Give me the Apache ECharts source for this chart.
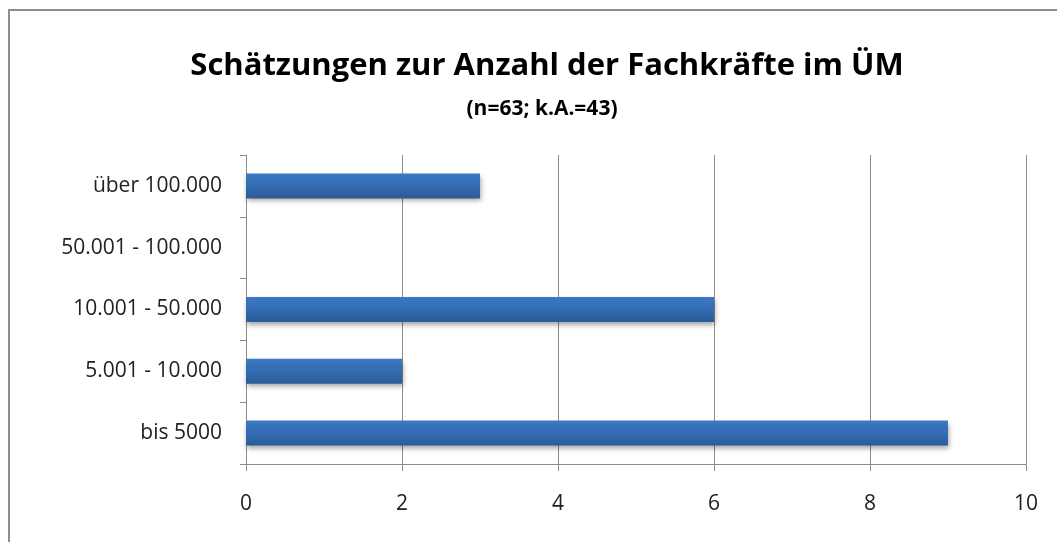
<!DOCTYPE html>
<html>
<head>
<meta charset="utf-8">
<script src="https://cdn.jsdelivr.net/npm/echarts@6/dist/echarts.min.js"></script>
<style>
  html, body { margin: 0; padding: 0; background: #fff; overflow: hidden; }
  .frame {
    position: absolute; left: 8px; top: 9px; width: 1100px; height: 600px;
    border: 2px solid #8e8e8e; box-sizing: border-box;
  }
  #ec { position: absolute; left: 0; top: 0; width: 1057px; height: 542px; }
</style>
</head>
<body>
<div class="frame"></div>
<div id="ec"></div>
<script>
  const categories = ['bis 5000', '5.001 - 10.000', '10.001 - 50.000', '50.001 - 100.000', 'über 100.000']
  const values = [9, 2, 6, 0, 3]
  const xTicks = [0, 2, 4, 6, 8, 10]

  const ec = echarts.init(document.getElementById('ec'))
  const labelFont = '"Open Sans", "Liberation Sans", sans-serif'

  ec.setOption({
    animation: false,
    title: [{
      text: 'Schätzungen zur Anzahl der Fachkräfte im ÜM',
      left: 542, top: 46, textAlign: 'center',
      textStyle: { fontFamily: labelFont, fontSize: 31, fontWeight: 'bold', color: '#000' }
    }, {
      text: '(n=63; k.A.=43)',
      left: 537, top: 94, textAlign: 'center',
      textStyle: { fontFamily: labelFont, fontSize: 21, fontWeight: 'bold', color: '#000' }
    }],
    grid: { left: 246, right: 31, top: 155, bottom: 78 },
    xAxis: {
      type: 'value',
      min: xTicks[0],
      max: xTicks[xTicks.length - 1],
      interval: 2,
      axisLine: { show: true, lineStyle: { color: '#8c8c8c', width: 1 } },
      axisTick: { show: true, length: 7, lineStyle: { color: '#8c8c8c' } },
      axisLabel: { margin: 30, fontFamily: labelFont, fontSize: 21, color: '#222' },
      splitLine: { show: true, lineStyle: { color: '#8c8c8c', width: 1 } }
    },
    yAxis: {
      type: 'category',
      data: categories,
      axisLine: { show: true, lineStyle: { color: '#8c8c8c', width: 1 } },
      axisTick: { show: true, length: 6, lineStyle: { color: '#8c8c8c' } },
      axisLabel: { margin: 24, fontFamily: labelFont, fontSize: 21, color: '#222' }
    },
    series: [{
      type: 'bar',
      data: values,
      barWidth: 25,
      itemStyle: {
        color: new echarts.graphic.LinearGradient(0, 0, 0, 1, [
          { offset: 0, color: '#3b79c3' },
          { offset: 0.5, color: '#326cb2' },
          { offset: 1, color: '#2b5b96' }
        ]),
        shadowColor: 'rgba(0,0,0,0.35)',
        shadowBlur: 5,
        shadowOffsetY: 3,
        shadowOffsetX: 1
      }
    }]
  })
</script>
</body>
</html>
